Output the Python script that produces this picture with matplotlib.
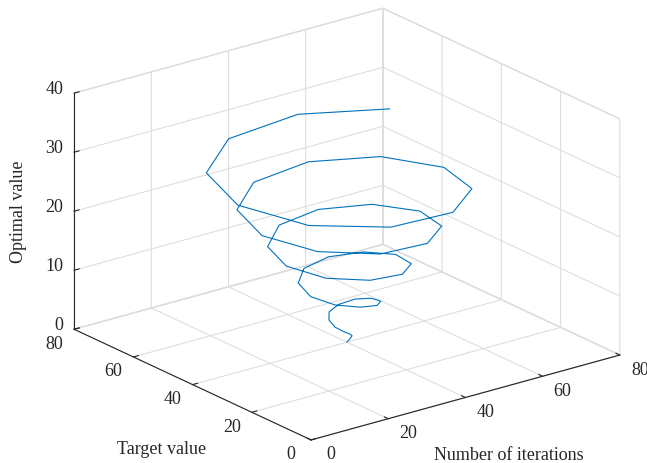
import numpy as np
import matplotlib
matplotlib.use('Agg')
import matplotlib.pyplot as plt
from matplotlib.transforms import offset_copy

plt.rcParams['font.family'] = ['Liberation Serif', 'DejaVu Serif']
plt.rcParams['axes3d.automargin'] = False

# spiral points
iterations = [40.0, 40.5, 40.4, 39.4, 38.0, 36.9, 37.0, 38.6, 41.6, 44.6,
              46.3, 45.6, 42.3, 37.5, 32.9, 30.6, 31.9, 36.7, 43.5, 49.7,
              52.6, 50.7, 44.3, 35.5, 27.8, 24.3, 26.8, 34.8, 45.4, 54.7,
              58.9, 55.8, 46.2, 33.6, 22.7, 18.0, 21.7, 32.8, 47.4, 59.8,
              65.1, 60.8, 48.2, 31.7, 17.6, 11.7, 16.6, 30.9, 49.3, 64.9]
target = [40.0, 39.6, 38.8, 38.2, 38.5, 40.0, 42.2, 44.2, 44.8, 43.3,
          40.0, 35.9, 32.8, 32.2, 34.8, 40.0, 45.9, 50.2, 50.8, 47.0,
          40.0, 32.2, 26.9, 26.3, 31.1, 40.0, 49.6, 56.1, 56.7, 50.7,
          40.0, 28.6, 20.9, 20.3, 27.4, 40.0, 53.3, 62.1, 62.7, 54.4,
          40.0, 24.9, 14.9, 14.3, 23.7, 40.0, 57.0, 68.1, 68.7, 58.1]
optimal = [0.0, 0.6, 1.3, 1.9, 2.5, 3.1, 3.8, 4.4, 5.0, 5.7,
           6.3, 6.9, 7.5, 8.2, 8.8, 9.4, 10.1, 10.7, 11.3, 11.9,
           12.6, 13.2, 13.8, 14.5, 15.1, 15.7, 16.3, 17.0, 17.6, 18.2,
           18.8, 19.5, 20.1, 20.7, 21.4, 22.0, 22.6, 23.2, 23.9, 24.5,
           25.1, 25.8, 26.4, 27.0, 27.6, 28.3, 28.9, 29.5, 30.2, 30.8]

xticks = [0, 20, 40, 60, 80]
yticks = [0, 20, 40, 60, 80]
zticks = [0, 10, 20, 30, 40]

fs = 13
txt = '#262626'

fig = plt.figure(figsize=(6.47, 4.63), dpi=100)
ax = fig.add_axes([0.0266, 0.0025, 1, 1], projection='3d', proj_type='ortho')
ax.plot(iterations, target, optimal, color='#0072BD', lw=0.8)

ax.set_xlim(0, 80)
ax.set_ylim(0, 80)
ax.set_zlim(0, 40)
ax.set_xticks(xticks)
ax.set_yticks(yticks)
ax.set_zticks(zticks)
ax.view_init(elev=21, azim=-127.5)
ax.set_box_aspect((1, 1, 0.65), zoom=1.27)

for axis in (ax.xaxis, ax.yaxis, ax.zaxis):
    axis.set_pane_color((1, 1, 1, 1))
    axis.pane.set_edgecolor('#dedede')
    axis._axinfo['grid']['color'] = '#dedede'
    axis._axinfo['grid']['linewidth'] = 0.8
    axis._axinfo['tick']['inward_factor'] = 0.0
    axis._axinfo['tick']['outward_factor'] = 0.2
    axis._axinfo['axisline']['color'] = txt
    axis.line.set_color(txt)
    axis.line.set_linewidth(0.8)
    axis.set_ticklabels([])
    for t in axis.get_major_ticks():
        t.label1.set_visible(False)
        t.label2.set_visible(False)
ax.tick_params(colors=txt)

# tick labels placed like MATLAB's, next to each tick
tx = offset_copy(ax.transData, fig=fig, x=20, y=-15, units='dots')
ty = offset_copy(ax.transData, fig=fig, x=-20, y=-15, units='dots')
tz = offset_copy(ax.transData, fig=fig, x=-11, y=4, units='dots')
for v in xticks:
    ax.text(v, 0, 0, str(v), transform=tx, ha='center', va='center',
            fontsize=fs, color=txt)
for v in yticks:
    ax.text(0, v, 0, str(v), transform=ty, ha='center', va='center',
            fontsize=fs, color=txt)
for v in zticks:
    ax.text(0, 80, v, str(v), transform=tz, ha='right', va='center',
            fontsize=fs, color=txt)

W, H = 647, 463
fig.text(509 / W, 1 - 455 / H, 'Number of iterations', fontsize=fs,
         ha='center', va='center', color=txt)
fig.text(162 / W, 1 - 450 / H, 'Target value', fontsize=fs,
         ha='center', va='center', color=txt)
fig.text(19 / W, 1 - 212 / H, 'Optimal value', fontsize=fs, rotation=90,
         ha='center', va='center', color=txt)

fig.savefig('out.png', dpi=100)
